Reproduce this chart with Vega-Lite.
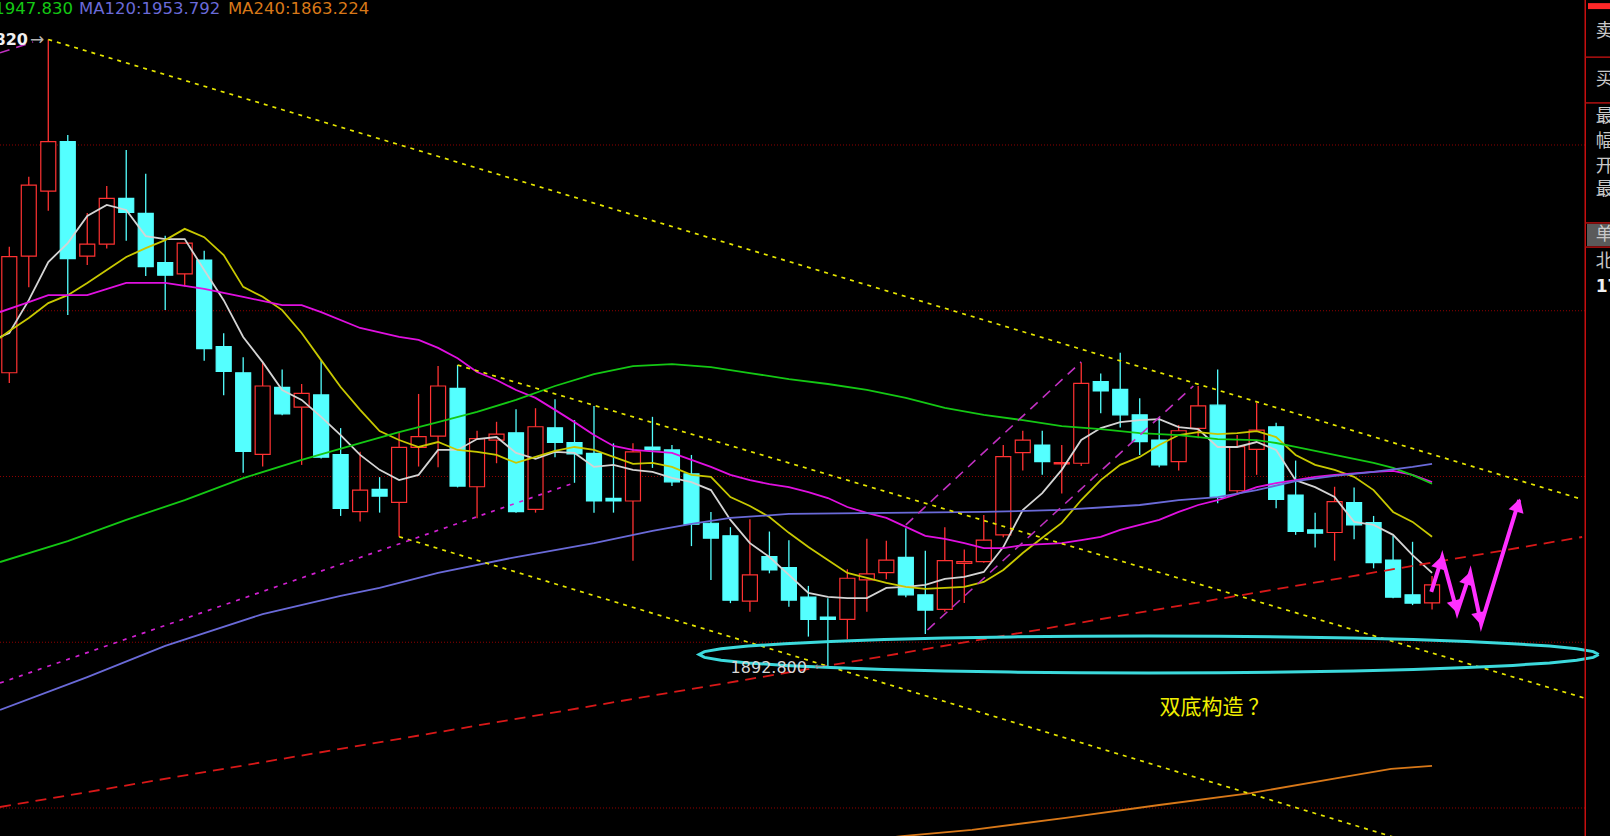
{
  "$schema": "https://vega.github.io/schema/vega-lite/v6.json",
  "width": 1610,
  "height": 836,
  "autosize": {"type": "none"},
  "padding": 0,
  "background": "#000000",
  "config": {"view": {"stroke": null}, "scale": {"continuousPadding": 0}},
  "datasets": {
    "k": [
      {"i":0,"o":1981.3,"c":2016.3,"h":2019.3,"l":1978.2,"d":"up"},
      {"i":1,"o":2016.5,"c":2037.9,"h":2040.4,"l":2007.1,"d":"up"},
      {"i":2,"o":2036.1,"c":2051.0,"h":2081.82,"l":2030.2,"d":"up"},
      {"i":3,"o":2051.0,"c":2015.7,"h":2053.0,"l":1998.7,"d":"down"},
      {"i":4,"o":2016.5,"c":2020.1,"h":2029.5,"l":2013.8,"d":"up"},
      {"i":5,"o":2020.1,"c":2033.9,"h":2037.6,"l":2018.8,"d":"up"},
      {"i":6,"o":2033.9,"c":2029.7,"h":2048.5,"l":2021.1,"d":"down"},
      {"i":7,"o":2029.4,"c":2013.3,"h":2041.3,"l":2010.5,"d":"down"},
      {"i":8,"o":2014.5,"c":2010.7,"h":2022.6,"l":2000.2,"d":"down"},
      {"i":9,"o":2011.1,"c":2020.4,"h":2020.4,"l":2007.3,"d":"up"},
      {"i":10,"o":2015.3,"c":1988.6,"h":2018.1,"l":1984.9,"d":"down"},
      {"i":11,"o":1989.2,"c":1981.7,"h":1993.2,"l":1974.5,"d":"down"},
      {"i":12,"o":1981.3,"c":1957.6,"h":1986.0,"l":1951.1,"d":"down"},
      {"i":13,"o":1956.7,"c":1977.3,"h":1984.6,"l":1953.0,"d":"up"},
      {"i":14,"o":1976.9,"c":1968.9,"h":1982.3,"l":1968.5,"d":"down"},
      {"i":15,"o":1970.9,"c":1975.1,"h":1977.9,"l":1953.5,"d":"up"},
      {"i":16,"o":1974.6,"c":1955.8,"h":1985.1,"l":1955.4,"d":"down"},
      {"i":17,"o":1956.6,"c":1940.4,"h":1964.6,"l":1938.1,"d":"down"},
      {"i":18,"o":1939.4,"c":1945.9,"h":1957.5,"l":1936.4,"d":"up"},
      {"i":19,"o":1946.1,"c":1944.1,"h":1949.8,"l":1939.1,"d":"down"},
      {"i":20,"o":1942.2,"c":1958.8,"h":1963.2,"l":1931.84,"d":"up"},
      {"i":21,"o":1958.8,"c":1962.0,"h":1974.9,"l":1953.0,"d":"up"},
      {"i":22,"o":1962.2,"c":1977.3,"h":1983.3,"l":1952.8,"d":"up"},
      {"i":23,"o":1976.6,"c":1947.1,"h":1983.63,"l":1946.7,"d":"down"},
      {"i":24,"o":1946.9,"c":1961.4,"h":1963.8,"l":1937.4,"d":"up"},
      {"i":25,"o":1961.0,"c":1962.8,"h":1966.5,"l":1954.0,"d":"up"},
      {"i":26,"o":1963.2,"c":1939.4,"h":1970.3,"l":1939.1,"d":"down"},
      {"i":27,"o":1940.1,"c":1965.0,"h":1970.6,"l":1939.1,"d":"up"},
      {"i":28,"o":1964.7,"c":1960.3,"h":1973.3,"l":1955.8,"d":"down"},
      {"i":29,"o":1960.2,"c":1956.8,"h":1967.0,"l":1948.1,"d":"down"},
      {"i":30,"o":1957.0,"c":1942.6,"h":1971.3,"l":1939.1,"d":"down"},
      {"i":31,"o":1943.4,"c":1942.6,"h":1960.0,"l":1939.1,"d":"down"},
      {"i":32,"o":1942.6,"c":1957.4,"h":1960.0,"l":1924.6,"d":"up"},
      {"i":33,"o":1958.9,"c":1958.0,"h":1968.0,"l":1952.6,"d":"down"},
      {"i":34,"o":1958.0,"c":1948.4,"h":1959.5,"l":1947.1,"d":"down"},
      {"i":35,"o":1950.8,"c":1935.6,"h":1956.5,"l":1929.0,"d":"down"},
      {"i":36,"o":1935.9,"c":1931.4,"h":1939.3,"l":1918.8,"d":"down"},
      {"i":37,"o":1932.1,"c":1912.7,"h":1934.7,"l":1911.8,"d":"down"},
      {"i":38,"o":1912.4,"c":1920.3,"h":1937.1,"l":1909.2,"d":"up"},
      {"i":39,"o":1925.8,"c":1921.8,"h":1933.4,"l":1920.8,"d":"down"},
      {"i":40,"o":1922.5,"c":1912.7,"h":1930.8,"l":1910.7,"d":"down"},
      {"i":41,"o":1913.6,"c":1906.9,"h":1917.0,"l":1901.7,"d":"down"},
      {"i":42,"o":1907.6,"c":1906.9,"h":1913.3,"l":1892.8,"d":"down"},
      {"i":43,"o":1906.9,"c":1919.3,"h":1922.0,"l":1900.9,"d":"up"},
      {"i":44,"o":1918.8,"c":1920.6,"h":1931.2,"l":1909.2,"d":"up"},
      {"i":45,"o":1921.0,"c":1924.8,"h":1930.6,"l":1919.0,"d":"up"},
      {"i":46,"o":1925.6,"c":1914.3,"h":1934.4,"l":1913.6,"d":"down"},
      {"i":47,"o":1914.3,"c":1909.7,"h":1927.6,"l":1902.5,"d":"down"},
      {"i":48,"o":1909.9,"c":1924.6,"h":1934.7,"l":1909.2,"d":"up"},
      {"i":49,"o":1923.8,"c":1924.3,"h":1928.0,"l":1911.8,"d":"up"},
      {"i":50,"o":1924.3,"c":1930.8,"h":1938.4,"l":1924.0,"d":"up"},
      {"i":51,"o":1932.4,"c":1956.0,"h":1959.5,"l":1931.7,"d":"up"},
      {"i":52,"o":1957.2,"c":1961.0,"h":1963.8,"l":1951.8,"d":"up"},
      {"i":53,"o":1959.5,"c":1954.5,"h":1963.8,"l":1950.5,"d":"down"},
      {"i":54,"o":1953.8,"c":1954.2,"h":1959.5,"l":1944.9,"d":"up"},
      {"i":55,"o":1954.0,"c":1978.1,"h":1984.3,"l":1953.2,"d":"up"},
      {"i":56,"o":1978.6,"c":1975.8,"h":1981.1,"l":1969.1,"d":"down"},
      {"i":57,"o":1976.3,"c":1968.6,"h":1987.3,"l":1964.8,"d":"down"},
      {"i":58,"o":1968.6,"c":1960.5,"h":1973.6,"l":1956.5,"d":"down"},
      {"i":59,"o":1961.0,"c":1953.5,"h":1967.6,"l":1952.8,"d":"down"},
      {"i":60,"o":1954.5,"c":1963.8,"h":1965.5,"l":1951.8,"d":"up"},
      {"i":61,"o":1964.5,"c":1971.3,"h":1977.3,"l":1961.5,"d":"up"},
      {"i":62,"o":1971.5,"c":1943.7,"h":1982.3,"l":1941.9,"d":"down"},
      {"i":63,"o":1945.7,"c":1959.0,"h":1962.5,"l":1944.7,"d":"up"},
      {"i":64,"o":1958.2,"c":1964.0,"h":1972.3,"l":1950.5,"d":"up"},
      {"i":65,"o":1965.0,"c":1943.1,"h":1966.2,"l":1940.4,"d":"down"},
      {"i":66,"o":1944.4,"c":1933.4,"h":1954.8,"l":1932.4,"d":"down"},
      {"i":67,"o":1933.9,"c":1932.9,"h":1939.1,"l":1928.6,"d":"down"},
      {"i":68,"o":1933.1,"c":1942.4,"h":1946.9,"l":1924.6,"d":"up"},
      {"i":69,"o":1942.1,"c":1935.4,"h":1946.7,"l":1931.1,"d":"down"},
      {"i":70,"o":1936.1,"c":1924.0,"h":1938.1,"l":1922.3,"d":"down"},
      {"i":71,"o":1924.8,"c":1913.6,"h":1932.1,"l":1913.3,"d":"down"},
      {"i":72,"o":1914.3,"c":1911.8,"h":1930.3,"l":1911.2,"d":"down"},
      {"i":73,"o":1911.9,"c":1917.3,"h":1920.0,"l":1909.9,"d":"up"}
    ],
    "ma": [
      {"s":"MA5","i":-0.477,"p":1992.1},{"s":"MA5","i":0,"p":1993.3},{"s":"MA5","i":1,"p":2003.2},{"s":"MA5","i":2,"p":2014.7},{"s":"MA5","i":3,"p":2020.4},{"s":"MA5","i":4,"p":2028.6},{"s":"MA5","i":5,"p":2031.9},{"s":"MA5","i":6,"p":2030.4},{"s":"MA5","i":7,"p":2022.5},{"s":"MA5","i":8,"p":2021.6},{"s":"MA5","i":9,"p":2021.6},{"s":"MA5","i":10,"p":2012.3},{"s":"MA5","i":11,"p":2003.2},{"s":"MA5","i":12,"p":1992.1},{"s":"MA5","i":13,"p":1984.5},{"s":"MA5","i":14,"p":1976.1},{"s":"MA5","i":15,"p":1973.1},{"s":"MA5","i":16,"p":1968.0},{"s":"MA5","i":17,"p":1962.5},{"s":"MA5","i":18,"p":1956.5},{"s":"MA5","i":19,"p":1952.0},{"s":"MA5","i":20,"p":1948.9},{"s":"MA5","i":21,"p":1950.5},{"s":"MA5","i":22,"p":1958.0},{"s":"MA5","i":23,"p":1958.0},{"s":"MA5","i":24,"p":1961.3},{"s":"MA5","i":25,"p":1961.9},{"s":"MA5","i":26,"p":1957.1},{"s":"MA5","i":27,"p":1955.3},{"s":"MA5","i":28,"p":1957.4},{"s":"MA5","i":29,"p":1957.1},{"s":"MA5","i":30,"p":1952.9},{"s":"MA5","i":31,"p":1953.5},{"s":"MA5","i":32,"p":1952.0},{"s":"MA5","i":33,"p":1951.4},{"s":"MA5","i":34,"p":1949.6},{"s":"MA5","i":35,"p":1948.3},{"s":"MA5","i":36,"p":1945.9},{"s":"MA5","i":37,"p":1936.9},{"s":"MA5","i":38,"p":1929.9},{"s":"MA5","i":39,"p":1925.7},{"s":"MA5","i":40,"p":1920.3},{"s":"MA5","i":41,"p":1914.9},{"s":"MA5","i":42,"p":1913.7},{"s":"MA5","i":43,"p":1913.3},{"s":"MA5","i":44,"p":1913.3},{"s":"MA5","i":45,"p":1916.4},{"s":"MA5","i":46,"p":1916.7},{"s":"MA5","i":47,"p":1917.3},{"s":"MA5","i":48,"p":1919.1},{"s":"MA5","i":49,"p":1919.7},{"s":"MA5","i":50,"p":1921.2},{"s":"MA5","i":51,"p":1928.7},{"s":"MA5","i":52,"p":1939.9},{"s":"MA5","i":53,"p":1945.0},{"s":"MA5","i":54,"p":1952.0},{"s":"MA5","i":55,"p":1961.0},{"s":"MA5","i":56,"p":1964.6},{"s":"MA5","i":57,"p":1966.4},{"s":"MA5","i":58,"p":1967.0},{"s":"MA5","i":59,"p":1967.3},{"s":"MA5","i":60,"p":1964.9},{"s":"MA5","i":61,"p":1964.3},{"s":"MA5","i":62,"p":1958.9},{"s":"MA5","i":63,"p":1958.9},{"s":"MA5","i":64,"p":1960.4},{"s":"MA5","i":65,"p":1958.0},{"s":"MA5","i":66,"p":1948.9},{"s":"MA5","i":67,"p":1946.8},{"s":"MA5","i":68,"p":1943.8},{"s":"MA5","i":69,"p":1936.3},{"s":"MA5","i":70,"p":1935.4},{"s":"MA5","i":71,"p":1932.4},{"s":"MA5","i":72,"p":1926.3},{"s":"MA5","i":73,"p":1920.9},
      {"s":"MA10","i":-0.477,"p":1991.8},{"s":"MA10","i":0,"p":1993.9},{"s":"MA10","i":1,"p":1997.8},{"s":"MA10","i":2,"p":2002.3},{"s":"MA10","i":3,"p":2004.7},{"s":"MA10","i":4,"p":2008.4},{"s":"MA10","i":5,"p":2012.3},{"s":"MA10","i":6,"p":2016.2},{"s":"MA10","i":7,"p":2018.9},{"s":"MA10","i":8,"p":2021.3},{"s":"MA10","i":9,"p":2024.7},{"s":"MA10","i":10,"p":2022.2},{"s":"MA10","i":11,"p":2016.8},{"s":"MA10","i":12,"p":2007.2},{"s":"MA10","i":13,"p":2004.2},{"s":"MA10","i":14,"p":2000.2},{"s":"MA10","i":15,"p":1993.3},{"s":"MA10","i":16,"p":1985.1},{"s":"MA10","i":17,"p":1977.0},{"s":"MA10","i":18,"p":1970.1},{"s":"MA10","i":19,"p":1963.7},{"s":"MA10","i":20,"p":1961.0},{"s":"MA10","i":21,"p":1958.9},{"s":"MA10","i":22,"p":1960.4},{"s":"MA10","i":23,"p":1958.0},{"s":"MA10","i":24,"p":1957.4},{"s":"MA10","i":25,"p":1956.5},{"s":"MA10","i":26,"p":1954.1},{"s":"MA10","i":27,"p":1955.9},{"s":"MA10","i":28,"p":1957.7},{"s":"MA10","i":29,"p":1958.9},{"s":"MA10","i":30,"p":1958.0},{"s":"MA10","i":31,"p":1955.9},{"s":"MA10","i":32,"p":1953.8},{"s":"MA10","i":33,"p":1954.1},{"s":"MA10","i":34,"p":1952.9},{"s":"MA10","i":35,"p":1950.5},{"s":"MA10","i":36,"p":1949.9},{"s":"MA10","i":37,"p":1943.8},{"s":"MA10","i":38,"p":1941.1},{"s":"MA10","i":39,"p":1937.8},{"s":"MA10","i":40,"p":1933.0},{"s":"MA10","i":41,"p":1928.7},{"s":"MA10","i":42,"p":1924.8},{"s":"MA10","i":43,"p":1920.9},{"s":"MA10","i":44,"p":1919.4},{"s":"MA10","i":45,"p":1917.9},{"s":"MA10","i":46,"p":1916.7},{"s":"MA10","i":47,"p":1916.1},{"s":"MA10","i":48,"p":1916.4},{"s":"MA10","i":49,"p":1916.7},{"s":"MA10","i":50,"p":1918.2},{"s":"MA10","i":51,"p":1921.8},{"s":"MA10","i":52,"p":1926.9},{"s":"MA10","i":53,"p":1931.5},{"s":"MA10","i":54,"p":1936.0},{"s":"MA10","i":55,"p":1942.9},{"s":"MA10","i":56,"p":1948.9},{"s":"MA10","i":57,"p":1953.5},{"s":"MA10","i":58,"p":1955.9},{"s":"MA10","i":59,"p":1959.5},{"s":"MA10","i":60,"p":1962.5},{"s":"MA10","i":61,"p":1963.4},{"s":"MA10","i":62,"p":1962.8},{"s":"MA10","i":63,"p":1963.1},{"s":"MA10","i":64,"p":1963.7},{"s":"MA10","i":65,"p":1961.9},{"s":"MA10","i":66,"p":1956.5},{"s":"MA10","i":67,"p":1953.5},{"s":"MA10","i":68,"p":1952.0},{"s":"MA10","i":69,"p":1949.9},{"s":"MA10","i":70,"p":1945.9},{"s":"MA10","i":71,"p":1939.3},{"s":"MA10","i":72,"p":1936.3},{"s":"MA10","i":73,"p":1931.8},
      {"s":"MA20","i":-0.477,"p":1999.6},{"s":"MA20","i":1,"p":2002.6},{"s":"MA20","i":2,"p":2004.7},{"s":"MA20","i":4,"p":2004.7},{"s":"MA20","i":6,"p":2008.4},{"s":"MA20","i":8,"p":2008.4},{"s":"MA20","i":9,"p":2007.5},{"s":"MA20","i":10,"p":2006.6},{"s":"MA20","i":12,"p":2004.2},{"s":"MA20","i":14,"p":2001.7},{"s":"MA20","i":15,"p":2001.7},{"s":"MA20","i":16,"p":1999.6},{"s":"MA20","i":18,"p":1994.8},{"s":"MA20","i":20,"p":1992.1},{"s":"MA20","i":21,"p":1991.2},{"s":"MA20","i":22,"p":1988.8},{"s":"MA20","i":23,"p":1985.7},{"s":"MA20","i":24,"p":1981.5},{"s":"MA20","i":25,"p":1979.1},{"s":"MA20","i":26,"p":1976.1},{"s":"MA20","i":27,"p":1973.7},{"s":"MA20","i":28,"p":1970.1},{"s":"MA20","i":29,"p":1966.4},{"s":"MA20","i":30,"p":1962.5},{"s":"MA20","i":31,"p":1959.2},{"s":"MA20","i":32,"p":1958.0},{"s":"MA20","i":34,"p":1957.1},{"s":"MA20","i":35,"p":1955.0},{"s":"MA20","i":36,"p":1952.9},{"s":"MA20","i":37,"p":1950.5},{"s":"MA20","i":38,"p":1948.9},{"s":"MA20","i":39,"p":1947.7},{"s":"MA20","i":40,"p":1946.8},{"s":"MA20","i":41,"p":1945.3},{"s":"MA20","i":42,"p":1943.5},{"s":"MA20","i":43,"p":1940.8},{"s":"MA20","i":44,"p":1939.0},{"s":"MA20","i":45,"p":1937.5},{"s":"MA20","i":46,"p":1934.8},{"s":"MA20","i":47,"p":1932.1},{"s":"MA20","i":48,"p":1931.2},{"s":"MA20","i":49,"p":1929.9},{"s":"MA20","i":50,"p":1928.4},{"s":"MA20","i":51,"p":1928.4},{"s":"MA20","i":52,"p":1929.3},{"s":"MA20","i":54,"p":1929.9},{"s":"MA20","i":55,"p":1930.8},{"s":"MA20","i":56,"p":1931.8},{"s":"MA20","i":57,"p":1933.9},{"s":"MA20","i":58,"p":1935.4},{"s":"MA20","i":59,"p":1936.9},{"s":"MA20","i":60,"p":1939.3},{"s":"MA20","i":61,"p":1941.4},{"s":"MA20","i":62,"p":1942.9},{"s":"MA20","i":63,"p":1944.7},{"s":"MA20","i":64,"p":1946.8},{"s":"MA20","i":65,"p":1948.0},{"s":"MA20","i":66,"p":1948.9},{"s":"MA20","i":67,"p":1949.9},{"s":"MA20","i":68,"p":1950.5},{"s":"MA20","i":70,"p":1951.4},{"s":"MA20","i":71,"p":1951.7},{"s":"MA20","i":72,"p":1950.5},{"s":"MA20","i":73,"p":1948.3},
      {"s":"MA60","i":-0.477,"p":1924.2},{"s":"MA60","i":3,"p":1930.5},{"s":"MA60","i":6,"p":1936.9},{"s":"MA60","i":9,"p":1942.9},{"s":"MA60","i":12,"p":1949.5},{"s":"MA60","i":15,"p":1955.0},{"s":"MA60","i":18,"p":1960.1},{"s":"MA60","i":20,"p":1963.4},{"s":"MA60","i":22,"p":1966.4},{"s":"MA60","i":24,"p":1969.5},{"s":"MA60","i":26,"p":1973.1},{"s":"MA60","i":28,"p":1977.3},{"s":"MA60","i":30,"p":1980.9},{"s":"MA60","i":32,"p":1983.3},{"s":"MA60","i":34,"p":1983.9},{"s":"MA60","i":36,"p":1983.0},{"s":"MA60","i":38,"p":1981.2},{"s":"MA60","i":40,"p":1979.4},{"s":"MA60","i":42,"p":1977.9},{"s":"MA60","i":44,"p":1976.1},{"s":"MA60","i":46,"p":1973.7},{"s":"MA60","i":48,"p":1970.7},{"s":"MA60","i":50,"p":1968.6},{"s":"MA60","i":52,"p":1967.0},{"s":"MA60","i":54,"p":1965.2},{"s":"MA60","i":56,"p":1964.3},{"s":"MA60","i":58,"p":1963.1},{"s":"MA60","i":60,"p":1962.5},{"s":"MA60","i":62,"p":1961.3},{"s":"MA60","i":64,"p":1961.0},{"s":"MA60","i":65,"p":1960.1},{"s":"MA60","i":66,"p":1958.9},{"s":"MA60","i":68,"p":1956.5},{"s":"MA60","i":70,"p":1954.1},{"s":"MA60","i":71,"p":1952.6},{"s":"MA60","i":72,"p":1950.4},{"s":"MA60","i":73,"p":1947.8},
      {"s":"MA120","i":-0.477,"p":1879.6},{"s":"MA120","i":4,"p":1889.5},{"s":"MA120","i":8,"p":1898.9},{"s":"MA120","i":13,"p":1908.5},{"s":"MA120","i":17,"p":1914.0},{"s":"MA120","i":19,"p":1916.4},{"s":"MA120","i":22,"p":1920.9},{"s":"MA120","i":26,"p":1925.7},{"s":"MA120","i":30,"p":1929.9},{"s":"MA120","i":33,"p":1933.6},{"s":"MA120","i":35,"p":1935.7},{"s":"MA120","i":37,"p":1937.5},{"s":"MA120","i":40,"p":1938.7},{"s":"MA120","i":45,"p":1939.0},{"s":"MA120","i":50,"p":1939.3},{"s":"MA120","i":54,"p":1939.9},{"s":"MA120","i":58,"p":1941.4},{"s":"MA120","i":60,"p":1942.9},{"s":"MA120","i":62,"p":1943.8},{"s":"MA120","i":64,"p":1945.9},{"s":"MA120","i":66,"p":1948.6},{"s":"MA120","i":68,"p":1950.2},{"s":"MA120","i":70,"p":1951.4},{"s":"MA120","i":72,"p":1952.9},{"s":"MA120","i":73,"p":1953.8},
      {"s":"MA240","i":44,"p":1840.3},{"s":"MA240","i":45.8,"p":1841.5},{"s":"MA240","i":49.4,"p":1843.4},{"s":"MA240","i":54.2,"p":1847.0},{"s":"MA240","i":59,"p":1850.9},{"s":"MA240","i":63.7,"p":1854.5},{"s":"MA240","i":68.5,"p":1859.4},{"s":"MA240","i":70.9,"p":1861.8},{"s":"MA240","i":73,"p":1862.7}
    ],
    "ellipse": [
      {"k":0,"i":81.55,"p":1896.30},{"k":1,"i":81.27,"p":1897.17},{"k":2,"i":80.42,"p":1898.02},{"k":3,"i":79.03,"p":1898.83},{"k":4,"i":77.14,"p":1899.58},{"k":5,"i":74.79,"p":1900.25},{"k":6,"i":72.04,"p":1900.81},{"k":7,"i":68.95,"p":1901.27},{"k":8,"i":65.60,"p":1901.61},{"k":9,"i":62.08,"p":1901.81},{"k":10,"i":58.47,"p":1901.88},{"k":11,"i":54.86,"p":1901.81},{"k":12,"i":51.34,"p":1901.61},{"k":13,"i":47.99,"p":1901.27},{"k":14,"i":44.90,"p":1900.81},{"k":15,"i":42.15,"p":1900.25},{"k":16,"i":39.80,"p":1899.58},{"k":17,"i":37.91,"p":1898.83},{"k":18,"i":36.52,"p":1898.02},{"k":19,"i":35.67,"p":1897.17},{"k":20,"i":35.39,"p":1896.30},{"k":21,"i":35.67,"p":1895.43},{"k":22,"i":36.52,"p":1894.58},{"k":23,"i":37.91,"p":1893.77},{"k":24,"i":39.80,"p":1893.02},{"k":25,"i":42.15,"p":1892.35},{"k":26,"i":44.90,"p":1891.79},{"k":27,"i":47.99,"p":1891.33},{"k":28,"i":51.34,"p":1890.99},{"k":29,"i":54.86,"p":1890.79},{"k":30,"i":58.47,"p":1890.72},{"k":31,"i":62.08,"p":1890.79},{"k":32,"i":65.60,"p":1890.99},{"k":33,"i":68.95,"p":1891.33},{"k":34,"i":72.04,"p":1891.79},{"k":35,"i":74.79,"p":1892.35},{"k":36,"i":77.14,"p":1893.02},{"k":37,"i":79.03,"p":1893.77},{"k":38,"i":80.42,"p":1894.58},{"k":39,"i":81.27,"p":1895.43},{"k":40,"i":81.55,"p":1896.30}
    ]
  },
  "layer": [
    {
      "data": {"values": [{"p":1850},{"p":1900},{"p":1950},{"p":2000},{"p":2050}]},
      "mark": {"type": "rule", "color": "#900000", "strokeDash": [1, 2], "strokeWidth": 1},
      "encoding": {
        "y": {"field": "p", "type": "quantitative", "scale": {"domain": [1841.55, 2093.74], "nice": false, "zero": false, "padding": 0}, "axis": null},
        "x": {"datum": -0.477, "type": "quantitative", "scale": {"domain": [-0.477, 82.13], "nice": false, "zero": false, "padding": 0}, "axis": null},
        "x2": {"datum": 80.86}
      }
    },
    {
      "data": {"name": "k"},
      "mark": {"type": "rule", "strokeWidth": 1.3},
      "encoding": {
        "x": {"field": "i", "type": "quantitative", "scale": {"domain": [-0.477, 82.13], "nice": false, "zero": false, "padding": 0}, "axis": null},
        "y": {"field": "l", "type": "quantitative", "scale": {"domain": [1841.55, 2093.74], "nice": false, "zero": false, "padding": 0}, "axis": null},
        "y2": {"field": "h"},
        "stroke": {"field": "d", "type": "nominal", "scale": {"domain": ["up", "down"], "range": ["#ff3232", "#54ffff"]}, "legend": null}
      }
    },
    {
      "data": {"name": "k"},
      "mark": {"type": "bar", "width": 15, "strokeWidth": 1.2},
      "encoding": {
        "x": {"field": "i", "type": "quantitative", "scale": {"domain": [-0.477, 82.13], "nice": false, "zero": false, "padding": 0}, "axis": null},
        "y": {"field": "o", "type": "quantitative", "scale": {"domain": [1841.55, 2093.74], "nice": false, "zero": false, "padding": 0}, "axis": null},
        "y2": {"field": "c"},
        "stroke": {"field": "d", "type": "nominal", "scale": {"domain": ["up", "down"], "range": ["#ff3232", "#54ffff"]}, "legend": null},
        "fill": {"field": "d", "type": "nominal", "scale": {"domain": ["up", "down"], "range": ["#000000", "#54ffff"]}, "legend": null}
      }
    },
    {
      "data": {"name": "ma"},
      "mark": {"type": "line", "strokeWidth": 1.8},
      "encoding": {
        "x": {"field": "i", "type": "quantitative", "scale": {"domain": [-0.477, 82.13], "nice": false, "zero": false, "padding": 0}, "axis": null},
        "y": {"field": "p", "type": "quantitative", "scale": {"domain": [1841.55, 2093.74], "nice": false, "zero": false, "padding": 0}, "axis": null},
        "color": {"field": "s", "type": "nominal", "scale": {"domain": ["MA5", "MA10", "MA20", "MA60", "MA120", "MA240"], "range": ["#d4d4d4", "#c8c800", "#e010e0", "#14c814", "#6a6ad8", "#d87818"]}, "legend": null}
      }
    },
    {
      "data": {"values": [
        {"g":"y1","i":2,"p":2081.82},{"g":"y1","i":80.65,"p":1943.2},
        {"g":"y2","i":23,"p":1983.63},{"g":"y2","i":80.8,"p":1883.2},
        {"g":"y3","i":20,"p":1931.84},{"g":"y3","i":71.32,"p":1840.7}
      ]},
      "mark": {"type": "line", "color": "#e6e600", "strokeWidth": 1.7, "strokeDash": [4, 5]},
      "encoding": {
        "x": {"field": "i", "type": "quantitative", "scale": {"domain": [-0.477, 82.13], "nice": false, "zero": false, "padding": 0}, "axis": null},
        "y": {"field": "p", "type": "quantitative", "scale": {"domain": [1841.55, 2093.74], "nice": false, "zero": false, "padding": 0}, "axis": null},
        "detail": {"field": "g", "type": "nominal"}
      }
    },
    {
      "data": {"values": [
        {"g":"m1","i":-0.477,"p":1887.7},{"g":"m1","i":29,"p":1948.1}
      ]},
      "mark": {"type": "line", "color": "#d020d0", "strokeWidth": 1.7, "strokeDash": [4, 6]},
      "encoding": {
        "x": {"field": "i", "type": "quantitative", "scale": {"domain": [-0.477, 82.13], "nice": false, "zero": false, "padding": 0}, "axis": null},
        "y": {"field": "p", "type": "quantitative", "scale": {"domain": [1841.55, 2093.74], "nice": false, "zero": false, "padding": 0}, "axis": null},
        "detail": {"field": "g", "type": "nominal"}
      }
    },
    {
      "data": {"values": [
        {"g":"m2","i":-0.477,"p":2077.8},{"g":"m2","i":1.22,"p":2081.07},
        {"g":"m3","i":46,"p":1935.4},{"g":"m3","i":55,"p":1984.6},
        {"g":"m4","i":47.11,"p":1903.7},{"g":"m4","i":60.75,"p":1977.3}
      ]},
      "mark": {"type": "line", "color": "#c030c0", "strokeWidth": 1.6, "strokeDash": [10, 7]},
      "encoding": {
        "x": {"field": "i", "type": "quantitative", "scale": {"domain": [-0.477, 82.13], "nice": false, "zero": false, "padding": 0}, "axis": null},
        "y": {"field": "p", "type": "quantitative", "scale": {"domain": [1841.55, 2093.74], "nice": false, "zero": false, "padding": 0}, "axis": null},
        "detail": {"field": "g", "type": "nominal"}
      }
    },
    {
      "data": {"values": [
        {"g":"r1","i":-0.477,"p":1850.3},{"g":"r1","i":80.7,"p":1931.75}
      ]},
      "mark": {"type": "line", "color": "#d81818", "strokeWidth": 1.8, "strokeDash": [11, 7]},
      "encoding": {
        "x": {"field": "i", "type": "quantitative", "scale": {"domain": [-0.477, 82.13], "nice": false, "zero": false, "padding": 0}, "axis": null},
        "y": {"field": "p", "type": "quantitative", "scale": {"domain": [1841.55, 2093.74], "nice": false, "zero": false, "padding": 0}, "axis": null},
        "detail": {"field": "g", "type": "nominal"}
      }
    },
    {
      "data": {"name": "ellipse"},
      "mark": {"type": "line", "color": "#3cd9dc", "strokeWidth": 3},
      "encoding": {
        "x": {"field": "i", "type": "quantitative", "scale": {"domain": [-0.477, 82.13], "nice": false, "zero": false, "padding": 0}, "axis": null},
        "y": {"field": "p", "type": "quantitative", "scale": {"domain": [1841.55, 2093.74], "nice": false, "zero": false, "padding": 0}, "axis": null},
        "order": {"field": "k", "type": "quantitative"}
      }
    },
    {
      "data": {"values": [
        {"k":0,"i":72.96,"p":1915.2},{"k":1,"i":73.52,"p":1925.7},{"k":2,"i":74.29,"p":1909.1},{"k":3,"i":74.96,"p":1920.9},{"k":4,"i":75.52,"p":1905.5},{"k":5,"i":77.47,"p":1942.9}
      ]},
      "mark": {"type": "line", "color": "#ff30ff", "strokeWidth": 4},
      "encoding": {
        "x": {"field": "i", "type": "quantitative", "scale": {"domain": [-0.477, 82.13], "nice": false, "zero": false, "padding": 0}, "axis": null},
        "y": {"field": "p", "type": "quantitative", "scale": {"domain": [1841.55, 2093.74], "nice": false, "zero": false, "padding": 0}, "axis": null},
        "order": {"field": "k", "type": "quantitative"}
      }
    },
    {
      "data": {"values": [
        {"i":73.44,"p":1924.2,"a":17},{"i":74.23,"p":1910.6,"a":165},{"i":74.88,"p":1919.4,"a":18},{"i":75.47,"p":1907.0,"a":168},{"i":77.41,"p":1941.4,"a":17}
      ]},
      "mark": {"type": "point", "shape": "triangle-up", "filled": true, "size": 240, "color": "#ff30ff", "opacity": 1},
      "encoding": {
        "x": {"field": "i", "type": "quantitative", "scale": {"domain": [-0.477, 82.13], "nice": false, "zero": false, "padding": 0}, "axis": null},
        "y": {"field": "p", "type": "quantitative", "scale": {"domain": [1841.55, 2093.74], "nice": false, "zero": false, "padding": 0}, "axis": null},
        "angle": {"field": "a", "type": "quantitative", "scale": null}
      }
    },
    {
      "data": {"values": [
        {"s":"MA60","t":"MA60:1947.830","i":3.267,"p":2091.0}
      ]},
      "mark": {"type": "text", "align": "right", "baseline": "middle", "font": "DejaVu Sans", "fontSize": 16.5},
      "encoding": {
        "x": {"field": "i", "type": "quantitative", "scale": {"domain": [-0.477, 82.13], "nice": false, "zero": false, "padding": 0}, "axis": null},
        "y": {"field": "p", "type": "quantitative", "scale": {"domain": [1841.55, 2093.74], "nice": false, "zero": false, "padding": 0}, "axis": null},
        "text": {"field": "t"},
        "color": {"field": "s", "type": "nominal", "scale": {"domain": ["MA5", "MA10", "MA20", "MA60", "MA120", "MA240"], "range": ["#d4d4d4", "#c8c800", "#e010e0", "#14c814", "#6a6ad8", "#d87818"]}, "legend": null}
      }
    },
    {
      "data": {"values": [
        {"s":"MA120","t":"MA120:1953.792","i":3.574,"p":2091.0},
        {"s":"MA240","t":"MA240:1863.224","i":11.215,"p":2091.0}
      ]},
      "mark": {"type": "text", "align": "left", "baseline": "middle", "font": "DejaVu Sans", "fontSize": 16.5},
      "encoding": {
        "x": {"field": "i", "type": "quantitative", "scale": {"domain": [-0.477, 82.13], "nice": false, "zero": false, "padding": 0}, "axis": null},
        "y": {"field": "p", "type": "quantitative", "scale": {"domain": [1841.55, 2093.74], "nice": false, "zero": false, "padding": 0}, "axis": null},
        "text": {"field": "t"},
        "color": {"field": "s", "type": "nominal", "scale": {"domain": ["MA5", "MA10", "MA20", "MA60", "MA120", "MA240"], "range": ["#d4d4d4", "#c8c800", "#e010e0", "#14c814", "#6a6ad8", "#d87818"]}, "legend": null}
      }
    },
    {
      "data": {"values": [{"t":"2081.820","i":0.96,"p":2081.82}]},
      "mark": {"type": "text", "align": "right", "baseline": "middle", "font": "DejaVu Sans", "fontSize": 16, "fontWeight": "bold", "color": "#f0f0f0"},
      "encoding": {
        "x": {"field": "i", "type": "quantitative", "scale": {"domain": [-0.477, 82.13], "nice": false, "zero": false, "padding": 0}, "axis": null},
        "y": {"field": "p", "type": "quantitative", "scale": {"domain": [1841.55, 2093.74], "nice": false, "zero": false, "padding": 0}, "axis": null},
        "text": {"field": "t"}
      }
    },
    {
      "data": {"values": [{"t":"→","i":1.06,"p":2081.82}]},
      "mark": {"type": "text", "align": "left", "baseline": "middle", "font": "DejaVu Sans", "fontSize": 17, "color": "#b4b4b4"},
      "encoding": {
        "x": {"field": "i", "type": "quantitative", "scale": {"domain": [-0.477, 82.13], "nice": false, "zero": false, "padding": 0}, "axis": null},
        "y": {"field": "p", "type": "quantitative", "scale": {"domain": [1841.55, 2093.74], "nice": false, "zero": false, "padding": 0}, "axis": null},
        "text": {"field": "t"}
      }
    },
    {
      "data": {"values": [{"t":"1892.800","i":37.01,"p":1892.2}]},
      "mark": {"type": "text", "align": "left", "baseline": "middle", "font": "DejaVu Sans", "fontSize": 16, "color": "#d8d8d8"},
      "encoding": {
        "x": {"field": "i", "type": "quantitative", "scale": {"domain": [-0.477, 82.13], "nice": false, "zero": false, "padding": 0}, "axis": null},
        "y": {"field": "p", "type": "quantitative", "scale": {"domain": [1841.55, 2093.74], "nice": false, "zero": false, "padding": 0}, "axis": null},
        "text": {"field": "t"}
      }
    },
    {
      "data": {"values": [{"t":"←","i":41.3,"p":1892.6}]},
      "mark": {"type": "text", "align": "left", "baseline": "middle", "font": "DejaVu Sans", "fontSize": 11, "color": "#9a9a9a"},
      "encoding": {
        "x": {"field": "i", "type": "quantitative", "scale": {"domain": [-0.477, 82.13], "nice": false, "zero": false, "padding": 0}, "axis": null},
        "y": {"field": "p", "type": "quantitative", "scale": {"domain": [1841.55, 2093.74], "nice": false, "zero": false, "padding": 0}, "axis": null},
        "text": {"field": "t"}
      }
    },
    {
      "data": {"values": [{"t":"双底构造 ？","i":61.83,"p":1880.2}]},
      "mark": {"type": "text", "align": "center", "baseline": "middle", "font": "Noto Sans CJK SC", "fontSize": 21, "color": "#f0f000"},
      "encoding": {
        "x": {"field": "i", "type": "quantitative", "scale": {"domain": [-0.477, 82.13], "nice": false, "zero": false, "padding": 0}, "axis": null},
        "y": {"field": "p", "type": "quantitative", "scale": {"domain": [1841.55, 2093.74], "nice": false, "zero": false, "padding": 0}, "axis": null},
        "text": {"field": "t"}
      }
    },
    {
      "data": {"values": [{"i":80.86}]},
      "mark": {"type": "rule", "color": "#c81010", "strokeWidth": 1.5},
      "encoding": {
        "x": {"field": "i", "type": "quantitative", "scale": {"domain": [-0.477, 82.13], "nice": false, "zero": false, "padding": 0}, "axis": null}
      }
    },
    {
      "data": {"values": [{"p":2091.0,"p2":2092.8}]},
      "mark": {"type": "rect", "color": "#ff2828"},
      "encoding": {
        "y": {"field": "p", "type": "quantitative", "scale": {"domain": [1841.55, 2093.74], "nice": false, "zero": false, "padding": 0}, "axis": null},
        "y2": {"field": "p2"},
        "x": {"datum": 81.0, "type": "quantitative", "axis": null},
        "x2": {"datum": 82.2}
      }
    },
    {
      "data": {"values": [{"p":2019.5,"p2":2026.2}]},
      "mark": {"type": "rect", "color": "#5a5a5a"},
      "encoding": {
        "y": {"field": "p", "type": "quantitative", "scale": {"domain": [1841.55, 2093.74], "nice": false, "zero": false, "padding": 0}, "axis": null},
        "y2": {"field": "p2"},
        "x": {"datum": 80.95, "type": "quantitative", "axis": null},
        "x2": {"datum": 82.2}
      }
    },
    {
      "data": {"values": [{"p":2076.5},{"p":2062.7},{"p":2026.5},{"p":2019.2}]},
      "mark": {"type": "rule", "color": "#b01010", "strokeWidth": 1.5},
      "encoding": {
        "y": {"field": "p", "type": "quantitative", "scale": {"domain": [1841.55, 2093.74], "nice": false, "zero": false, "padding": 0}, "axis": null},
        "x": {"datum": 80.86, "type": "quantitative", "axis": null},
        "x2": {"datum": 82.2}
      }
    },
    {
      "data": {"values": [
        {"t":"卖","i":81.4,"p":2084.1},
        {"t":"买","i":81.4,"p":2069.6},
        {"t":"最","i":81.4,"p":2058.4},
        {"t":"幅","i":81.4,"p":2050.9},
        {"t":"开","i":81.4,"p":2043.4},
        {"t":"最","i":81.4,"p":2036.4},
        {"t":"单","i":81.4,"p":2022.9},
        {"t":"北","i":81.4,"p":2014.7}
      ]},
      "mark": {"type": "text", "align": "left", "baseline": "middle", "font": "Noto Sans CJK SC", "fontSize": 18, "color": "#c8c8c8"},
      "encoding": {
        "x": {"field": "i", "type": "quantitative", "scale": {"domain": [-0.477, 82.13], "nice": false, "zero": false, "padding": 0}, "axis": null},
        "y": {"field": "p", "type": "quantitative", "scale": {"domain": [1841.55, 2093.74], "nice": false, "zero": false, "padding": 0}, "axis": null},
        "text": {"field": "t"}
      }
    },
    {
      "data": {"values": [{"t":"17","i":81.4,"p":2007.2}]},
      "mark": {"type": "text", "align": "left", "baseline": "middle", "font": "DejaVu Sans", "fontSize": 17, "fontWeight": "bold", "color": "#f0f0f0"},
      "encoding": {
        "x": {"field": "i", "type": "quantitative", "scale": {"domain": [-0.477, 82.13], "nice": false, "zero": false, "padding": 0}, "axis": null},
        "y": {"field": "p", "type": "quantitative", "scale": {"domain": [1841.55, 2093.74], "nice": false, "zero": false, "padding": 0}, "axis": null},
        "text": {"field": "t"}
      }
    }
  ]
}
